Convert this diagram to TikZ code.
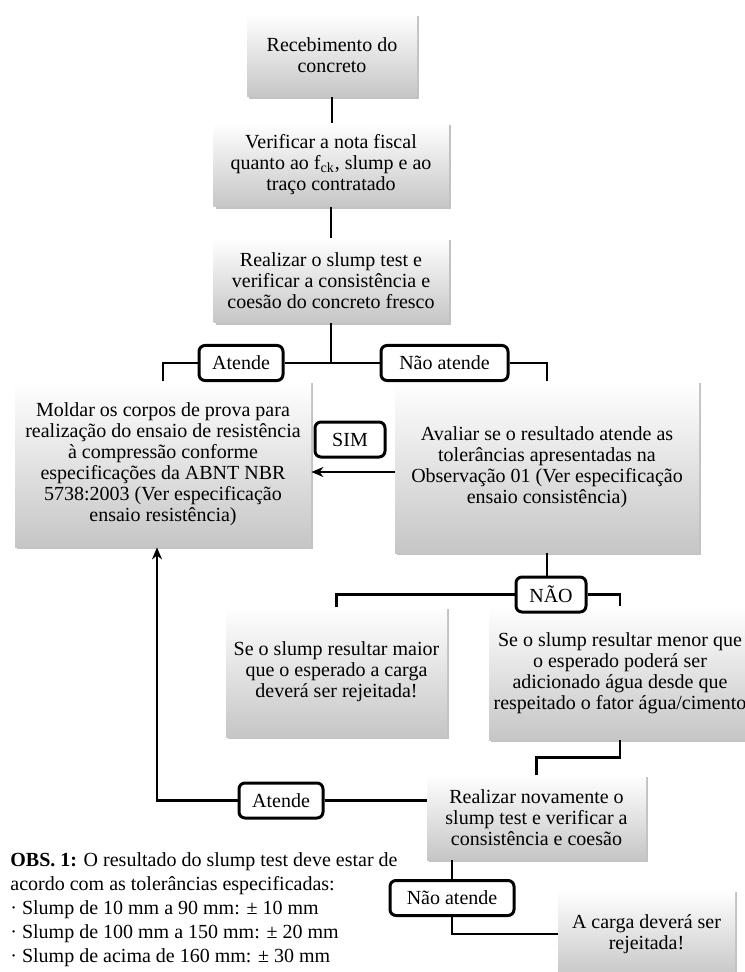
\documentclass[tikz,border=0pt]{standalone}
\usepackage{fontspec}
\setmainfont{Liberation Serif}
\usetikzlibrary{arrows.meta, shadows, positioning}

\begin{document}
\begin{tikzpicture}[
  x=0.5pt, y=-0.5pt,
  font=\fontsize{10}{10.5}\selectfont,
  box/.style={rectangle, align=center, inner sep=2pt,
    top color=white, bottom color=gray!45,
    drop shadow={shadow xshift=1pt, shadow yshift=-1pt, fill=gray!80, opacity=.6}},
  tag/.style={draw, rectangle, rounded corners=3pt, line width=1.5pt,
    fill=white, inner sep=0pt, minimum height=17.5pt},
  link/.style={line width=1.4pt},
  ]
  \useasboundingbox (0,0) rectangle (744,972);

  % main column
  \node[box, minimum width=85pt, minimum height=41.5pt] (receb) at (332,55.5) {Recebimento do\\concreto};
  \node[box, minimum width=117.5pt, minimum height=42pt] (nota) at (331,165) {Verificar a nota fiscal\\quanto ao f\textsubscript{ck}, slump e ao\\traço contratado};
  \node[box, minimum width=117.5pt, minimum height=42.5pt] (slump) at (331,280.5) {Realizar o slump test e\\verificar a consistência e\\coesão do concreto fresco};
  \node[box, minimum width=148pt, minimum height=83pt] (molda) at (163,464) {Moldar os corpos de prova para\\realização do ensaio de resistência\\à compressão conforme\\especificações da ABNT NBR\\5738:2003 (Ver especificação\\ensaio resistência)};
  \node[box, minimum width=152pt, minimum height=86pt] (avalia) at (547,467) {Avaliar se o resultado atende as\\tolerâncias apresentadas na\\Observação 01 (Ver especificação\\ensaio consistência)};
  \node[box, minimum width=110.5pt, minimum height=65pt] (maior) at (336.5,672) {Se o slump resultar maior\\que o esperado a carga\\deverá ser rejeitada!};
  \node[box, minimum width=131pt, minimum height=67pt] (menor) at (620,673) {Se o slump resultar menor que\\o esperado poderá ser\\adicionado água desde que\\respeitado o fator água/cimento};
  \node[box, minimum width=109.5pt, minimum height=42.5pt] (novo) at (536.5,817.5) {Realizar novamente o\\slump test e verificar a\\consistência e coesão};
  \node[box, minimum width=88.5pt, minimum height=44pt] (rejeita) at (646.5,934) {A carga deverá ser\\rejeitada!};

  % labels on the lines
  \node[tag, minimum width=42pt] (atende) at (241,363) {Atende};
  \node[tag, minimum width=63.5pt] (naoatende) at (444.5,363) {Não atende};
  \node[tag, minimum width=35pt] (sim) at (350,439.5) {SIM};
  \node[tag, minimum width=35pt] (nao) at (551,594.5) {NÃO};
  \node[tag, minimum width=42pt] (atende2) at (281,800.5) {Atende};
  \node[tag, minimum width=62pt] (naoatende2) at (452,898) {Não atende};

  \node[anchor=north west, inner sep=0pt, align=left, font=\fontsize{10}{12}\selectfont] (obs) at (10,852)
    {\textbf{OBS. 1:} O resultado do slump test deve estar de\\acordo com as tolerâncias especificadas:\\· Slump de 10 mm a 90 mm: ± 10 mm\\· Slump de 100 mm a 150 mm: ± 20 mm\\· Slump de acima de 160 mm: ± 30 mm};

  % connectors
  \draw[link] (receb.south) -- (receb.south |- nota.north);
  \draw[link] (nota.south) -- (nota.south |- slump.north);
  \draw[link] (slump.south) |- (atende.east);
  \draw[link] (atende.west) -| (molda.north);
  \draw[link] (slump.south) |- (naoatende.west);
  \draw[link] (naoatende.east) -| (avalia.north);
  \draw[link, -{Stealth[length=6pt, width=5pt]}] ([yshift=-2.5pt]avalia.west) -- ([yshift=-2.5pt]avalia.west -| molda.east);
  \draw[link] (avalia.south) -- (avalia.south |- nao.north);
  \draw[link] (nao.west) -| (maior.north);
  \draw[link] (nao.east) -| (menor.north);
  \draw[link] (menor.south) -- ++(0,17) -| (novo.north);
  \draw[link] (atende2.east) -- (atende2.east -| novo.west);
  \draw[link, -{Stealth[length=6pt, width=5pt]}] (atende2.west) -| ([xshift=-3pt]molda.south);
  \draw[link] (naoatende2.north) -- (naoatende2.north |- novo.south);
  \draw[link] (naoatende2.south) |- (rejeita.west);
\end{tikzpicture}
\end{document}
